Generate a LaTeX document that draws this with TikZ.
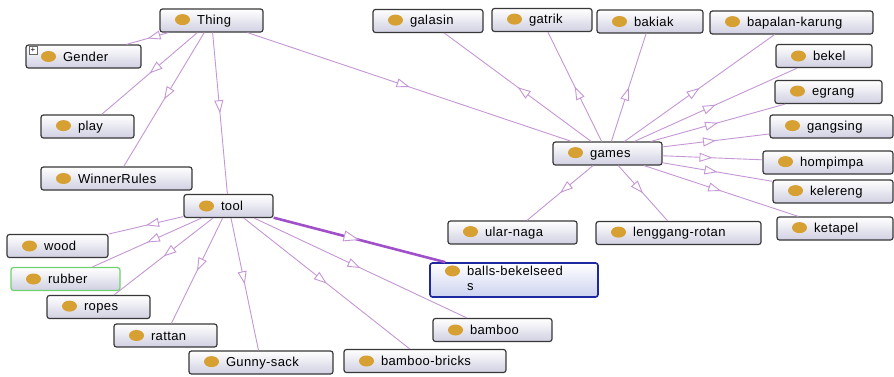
\documentclass[tikz,border=0pt]{standalone}
\usepackage{fontspec}
\setmainfont{Liberation Sans}[LetterSpace=3]
\usetikzlibrary{arrows.meta,decorations.markings}

\definecolor{edgec}{RGB}{196,150,212}
\definecolor{edgedark}{RGB}{160,80,200}
\definecolor{boxbot}{RGB}{208,208,226}
\definecolor{selbot}{RGB}{205,210,240}
\definecolor{dotc}{RGB}{214,160,50}
\definecolor{selc}{RGB}{30,40,160}
\definecolor{okc}{RGB}{110,210,110}

\newcommand{\dotmark}{\tikz[baseline=-0.35em]\fill[dotc] (0,0) ellipse (7.5pt and 5.5pt);\hspace{7pt}}

\begin{document}
\begin{tikzpicture}[x=1pt, y=-1pt,
    cls/.style={draw=black!78, line width=1.2pt, rounded corners=2.5pt, top color=white, bottom color=boxbot,
        minimum height=23pt, inner xsep=15pt, inner ysep=0pt, align=left, font=\fontsize{13}{15}\selectfont},
    isa/.style={edgec, line width=0.9pt, postaction={decorate},
        decoration={markings, mark=at position 0.5 with {\arrow{Triangle[length=13pt, width=9pt, fill=white]}}}},
    isabold/.style={edgedark, line width=2.6pt, postaction={decorate},
        decoration={markings, mark=at position 0.5 with {\arrow{Triangle[length=16pt, width=11pt, fill=white, color=edgec, line width=0.9pt]}}}}]
    \useasboundingbox (0,0) rectangle (894,376);

    % top classes
    \node[cls, text width=73pt] (c-thing) at (211.5,20.5) {\dotmark Thing};
    \node[cls, text width=85pt] (c-gender) at (83.5,56.5) {\dotmark Gender};
    \node[draw=black!60, fill=white, inner sep=0pt, minimum size=8pt, font=\fontsize{8}{8}\selectfont] (c-plus) at (33,50) {+};
    \node[cls, text width=63pt] (c-play) at (87.5,126.5) {\dotmark play};
    \node[cls, text width=121pt] (c-winner) at (116.5,178.5) {\dotmark WinnerRules};

    % tool and its parts
    \node[cls, text width=59pt] (c-tool) at (228.5,206) {\dotmark tool};
    \node[cls, text width=71pt] (c-wood) at (57.5,246) {\dotmark wood};
    \node[cls, draw=okc, text width=79pt] (c-rubber) at (65.5,279) {\dotmark rubber};
    \node[cls, text width=73pt] (c-ropes) at (98.5,307) {\dotmark ropes};
    \node[cls, text width=73pt] (c-rattan) at (165.5,335.5) {\dotmark rattan};
    \node[cls, text width=114pt] (c-gunny) at (261,362.5) {\dotmark Gunny-sack};
    \node[cls, text width=132pt] (c-bricks) at (425,361) {\dotmark bamboo-bricks};
    \node[cls, text width=89pt] (c-bamboo) at (492.5,330) {\dotmark bamboo};
    \node[cls, draw=selc, line width=1.6pt, bottom color=selbot, minimum height=34pt, text width=138pt] (c-balls) at (514,280)
        {\dotmark\begin{tabular}[t]{@{}l@{}}balls-bekelseed\\s\end{tabular}};

    % games and its kinds
    \node[cls, text width=79pt] (c-games) at (607.5,153.5) {\dotmark games};
    \node[cls, text width=80pt] (c-galasin) at (428,21) {\dotmark galasin};
    \node[cls, text width=70pt] (c-gatrik) at (542,20) {\dotmark gatrik};
    \node[cls, text width=76pt] (c-bakiak) at (650,21.5) {\dotmark bakiak};
    \node[cls, text width=133pt] (c-bapalan) at (791.5,22.5) {\dotmark bapalan-karung};
    \node[cls, text width=66pt] (c-bekel) at (824,56) {\dotmark bekel};
    \node[cls, text width=77pt] (c-egrang) at (828.5,92) {\dotmark egrang};
    \node[cls, text width=93pt] (c-gangsing) at (831.5,126.5) {\dotmark gangsing};
    \node[cls, text width=100pt] (c-hompimpa) at (828,162.5) {\dotmark hompimpa};
    \node[cls, text width=90pt] (c-kelereng) at (833,191.5) {\dotmark kelereng};
    \node[cls, text width=86pt] (c-ketapel) at (835,228.5) {\dotmark ketapel};
    \node[cls, text width=99pt] (c-ularnaga) at (512.5,232.5) {\dotmark ular-naga};
    \node[cls, text width=135pt] (c-lenggang) at (678.5,233) {\dotmark lenggang-rotan};

    \draw[isa] (c-thing) -- (c-gender);
    \draw[isa] (c-thing) -- (c-play);
    \draw[isa] (c-thing) -- (c-winner);
    \draw[isa] (c-thing) -- (c-tool);
    \draw[isa] (c-thing) -- (c-games);

    \draw[isa] (c-tool) -- (c-wood);
    \draw[isa] (c-tool) -- (c-rubber);
    \draw[isa] (c-tool) -- (c-ropes);
    \draw[isa] (c-tool) -- (c-rattan);
    \draw[isa] (c-tool) -- (c-gunny);
    \draw[isa] (c-tool) -- (c-bricks);
    \draw[isa] (c-tool) -- (c-bamboo);
    \draw[isabold] (c-tool) -- (c-balls);

    \draw[isa] (c-games) -- (c-galasin);
    \draw[isa] (c-games) -- (c-gatrik);
    \draw[isa] (c-games) -- (c-bakiak);
    \draw[isa] (c-games) -- (c-bapalan);
    \draw[isa] (c-games) -- (c-bekel);
    \draw[isa] (c-games) -- (c-egrang);
    \draw[isa] (c-games) -- (c-gangsing);
    \draw[isa] (c-games) -- (c-hompimpa);
    \draw[isa] (c-games) -- (c-kelereng);
    \draw[isa] (c-games) -- (c-ketapel);
    \draw[isa] (c-games) -- (c-ularnaga);
    \draw[isa] (c-games) -- (c-lenggang);
\end{tikzpicture}
\end{document}
